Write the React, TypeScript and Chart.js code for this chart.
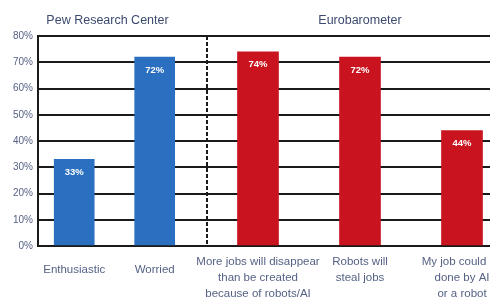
import React, { useEffect, useRef } from "react";
import { Chart, registerables } from "chart.js";

Chart.register(...registerables);

const pewTitle = "Pew Research Center";
const pewCategories: string[][] = [["Enthusiastic"], ["Worried"]];
const pewValues = [33, 72];

const euroTitle = "Eurobarometer";
const euroCategories: string[][] = [
  ["More jobs will disappear", "than be created", "because of robots/AI"],
  ["Robots will", "steal jobs"],
  ["My job could be", "done by AI", "or a robot"],
];
const euroValues = [74, 72, 44];

const yMin = 0;
const yMax = 80;
const yStep = 10;

const FONT = "'Liberation Sans', Arial, sans-serif";
const BLUE = "#2a6fc0";
const RED = "#c9141f";
const TITLE_COLOR = "#3b4a6e";
const LABEL_COLOR = "#566285";
const LINE = "#1a1a1a";

const valueLabelPlugin = {
  id: "valueLabels",
  afterDatasetsDraw(chart: any) {
    const ctx = chart.ctx;
    ctx.save();
    ctx.fillStyle = "#ffffff";
    ctx.font = `bold 9.5px ${FONT}`;
    ctx.textAlign = "center";
    ctx.textBaseline = "middle";
    chart.data.datasets.forEach((ds: any, di: number) => {
      const meta = chart.getDatasetMeta(di);
      meta.data.forEach((bar: any, i: number) => {
        const raw = ds.data[i];
        const v = typeof raw === "number" ? raw : raw.y;
        ctx.fillText(`${v}%`, bar.x, bar.y + 13);
      });
    });
    ctx.restore();
  },
};

function baseOptions(title: string, padLeft: number): any {
  return {
    responsive: false,
    animation: false,
    maintainAspectRatio: false,
    layout: { padding: { left: padLeft, right: 0, top: 0, bottom: 0 } },
    plugins: {
      legend: { display: false },
      tooltip: { enabled: false },
      title: {
        display: true,
        text: title,
        color: TITLE_COLOR,
        font: { family: FONT, size: 12.5, weight: "normal" },
        padding: { top: 5, bottom: 8 },
      },
    },
  };
}

const xTickFont = { family: FONT, size: 11.5, lineHeight: 1.4 };

function pewOptions(): any {
  const o = baseOptions(pewTitle, 0);
  o.scales = {
    x: {
      type: "linear",
      offset: false,
      min: -0.45,
      max: 1.65,
      grid: { display: false },
      border: { display: false },
      afterBuildTicks: (s: any) => {
        s.ticks = pewCategories.map((_, i) => ({ value: i }));
      },
      ticks: {
        color: LABEL_COLOR,
        font: xTickFont,
        padding: 8,
        maxRotation: 0,
        autoSkip: false,
        callback: (v: any) => pewCategories[v] ?? "",
      },
      afterFit: (s: any) => {
        s.height = 60;
        s.paddingLeft = 0;
        s.paddingRight = 0;
      },
    },
    y: {
      min: yMin,
      max: yMax,
      grid: { color: LINE, lineWidth: 2, drawTicks: false },
      border: { display: true, color: LINE, width: 2 },
      ticks: {
        stepSize: yStep,
        color: LABEL_COLOR,
        font: { family: FONT, size: 10 },
        padding: 5,
        callback: (v: any) => `${v}%`,
      },
      afterFit: (s: any) => {
        s.width = 30;
      },
    },
  };
  return o;
}

function euroOptions(): any {
  const o = baseOptions(euroTitle, 20);
  o.scales = {
    x: {
      grid: {
        display: true,
        drawTicks: false,
        lineWidth: 2,
        color: (c: any) => (c.index === 0 ? LINE : "rgba(0,0,0,0)"),
      },
      border: { display: false, dash: [4, 2] },
      ticks: {
        color: LABEL_COLOR,
        font: xTickFont,
        padding: 8,
        maxRotation: 0,
        autoSkip: false,
      },
      afterFit: (s: any) => {
        s.height = 60;
        s.paddingLeft = 0;
        s.paddingRight = 0;
      },
    },
    y: {
      min: yMin,
      max: yMax,
      grid: { color: LINE, lineWidth: 2, drawTicks: false },
      border: { display: false },
      ticks: { display: false, stepSize: yStep },
      afterFit: (s: any) => {
        s.width = 0;
      },
    },
  };
  return o;
}

function PewPanel() {
  const ref = useRef<HTMLCanvasElement>(null);
  useEffect(() => {
    if (!ref.current) return;
    const chart = new Chart(ref.current, {
      type: "bar",
      data: {
        datasets: [
          {
            data: pewValues.map((v, i) => ({ x: i, y: v })),
            backgroundColor: BLUE,
            borderWidth: 0,
            barThickness: 40,
          },
        ],
      },
      options: pewOptions(),
      plugins: [valueLabelPlugin],
    });
    return () => chart.destroy();
  }, []);
  return (
    <canvas
      ref={ref}
      width={199}
      height={298}
      style={{ position: "absolute", left: 0, top: 0, width: 199, height: 298 }}
    />
  );
}

function EuroPanel() {
  const ref = useRef<HTMLCanvasElement>(null);
  useEffect(() => {
    if (!ref.current) return;
    const chart = new Chart(ref.current, {
      type: "bar",
      data: {
        labels: euroCategories,
        datasets: [
          {
            data: euroValues,
            backgroundColor: RED,
            borderWidth: 0,
            barThickness: 41,
          },
        ],
      },
      options: euroOptions(),
      plugins: [valueLabelPlugin],
    });
    return () => chart.destroy();
  }, []);
  return (
    <canvas
      ref={ref}
      width={326}
      height={298}
      style={{ position: "absolute", left: 179, top: 0, width: 326, height: 298 }}
    />
  );
}

export default function App() {
  useEffect(() => {
    const prev = document.body.style.overflow;
    document.body.style.overflow = "hidden";
    return () => {
      document.body.style.overflow = prev;
    };
  }, []);
  return (
    <div
      style={{
        position: "relative",
        width: 505,
        height: 298,
        marginBottom: -8,
        marginRight: -23,
        overflow: "hidden",
        background: "#fff",
      }}
    >
      <PewPanel />
      <EuroPanel />
    </div>
  );
}
